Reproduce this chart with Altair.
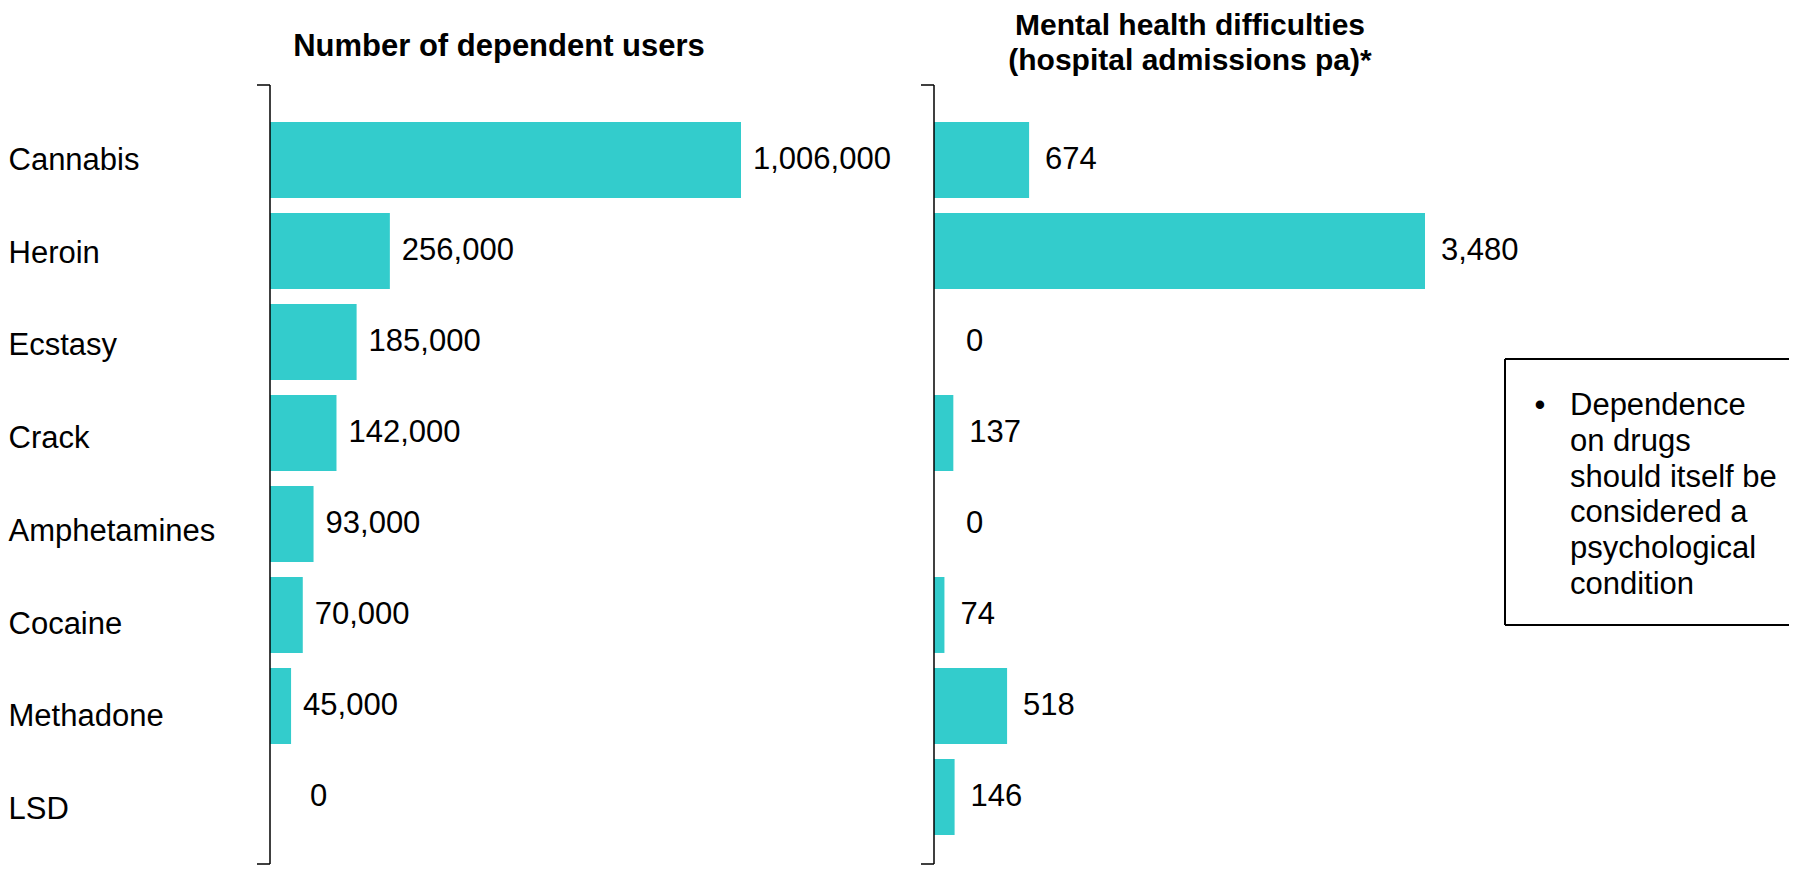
import altair as alt
import pandas as pd

# ---- data ----
drugs = ["Cannabis", "Heroin", "Ecstasy", "Crack", "Amphetamines", "Cocaine", "Methadone", "LSD"]
dependent_users = [1006000, 256000, 185000, 142000, 93000, 70000, 45000, 0]
mh_admissions = [674, 3480, 0, 137, 0, 74, 518, 146]

title_left = "Number of dependent users"
title_right = ["Mental health difficulties", "(hospital admissions pa)*"]
note_lines = ["Dependence", "on drugs", "should itself be", "considered a", "psychological", "condition"]

# ---- styling / layout ----
FONT = "Liberation Sans"
BAR = "#33CCCC"
FS = 31
H = 779
W1 = 644
W2 = 855
LEFT_MAX_PX = 471
RIGHT_MAX_PX = 491

df = pd.DataFrame({"drug": drugs, "users": dependent_users, "admissions": mh_admissions})
one = pd.DataFrame({"k": [0]})

yscale = alt.Scale(domain=drugs, paddingInner=0.165, paddingOuter=0.3626, align=0.56)

y_left = alt.Y(
    "drug:N",
    scale=yscale,
    axis=alt.Axis(
        title=None, labelAlign="left", labelPadding=262, ticks=False, tickSize=0,
        domain=False, labelFont=FONT, labelFontSize=FS, labelColor="black",
        labelLimit=500, labelBaseline="middle",
        labelOffset=alt.ExprRef("datum.index * 12 + 1"),
    ),
)
y_right = alt.Y("drug:N", scale=yscale, axis=None)

x_left = alt.X("users:Q", axis=None,
               scale=alt.Scale(domain=[0, max(dependent_users) * W1 / LEFT_MAX_PX], nice=False, zero=True))
x_right = alt.X("admissions:Q", axis=None,
                scale=alt.Scale(domain=[0, max(mh_admissions) * W2 / RIGHT_MAX_PX], nice=False, zero=True))


def axis_line():
    v = alt.Chart(one).mark_rule(color="black", strokeWidth=1.5).encode(
        x=alt.value(0), y=alt.value(0), y2=alt.value(H))
    t1 = alt.Chart(one).mark_rule(color="black", strokeWidth=1.5).encode(
        x=alt.value(-13), x2=alt.value(0), y=alt.value(0))
    t2 = alt.Chart(one).mark_rule(color="black", strokeWidth=1.5).encode(
        x=alt.value(-13), x2=alt.value(0), y=alt.value(H))
    return [v, t1, t2]


# ---- left panel ----
bars_l = alt.Chart(df).mark_bar(color=BAR).encode(x=x_left, y=y_left)
text_l = alt.Chart(df).mark_text(
    align="left", baseline="middle", font=FONT, fontSize=FS, color="black",
    dx=alt.ExprRef("datum.users == 0 ? 40 : 12"),
).encode(x=x_left, y=y_left, text=alt.Text("users:Q", format=","))
tl = alt.Chart(one).mark_text(
    text=title_left, align="center", baseline="alphabetic", font=FONT, fontSize=FS,
    fontWeight="bold", color="black"
).encode(x=alt.value(229), y=alt.value(-29))

left = alt.layer(bars_l, text_l, *axis_line(), tl).properties(width=W1, height=H)

# ---- right panel ----
bars_r = alt.Chart(df).mark_bar(color=BAR).encode(x=x_right, y=y_right)
text_r = alt.Chart(df).mark_text(
    align="left", baseline="middle", font=FONT, fontSize=FS, color="black",
    dx=alt.ExprRef("datum.admissions == 0 ? 32 : 16"),
).encode(x=x_right, y=y_right, text=alt.Text("admissions:Q", format=","))
tr = alt.Chart(one).mark_text(
    text=title_right, align="center", baseline="alphabetic", font=FONT, fontSize=30,
    fontWeight="bold", color="black", lineHeight=35
).encode(x=alt.value(256), y=alt.value(-50))

BX, BT, BB = 571, 274, 540
box_top = alt.Chart(one).mark_rule(color="black", strokeWidth=2).encode(
    x=alt.value(BX), x2=alt.value(W2), y=alt.value(BT))
box_bot = alt.Chart(one).mark_rule(color="black", strokeWidth=2).encode(
    x=alt.value(BX), x2=alt.value(W2), y=alt.value(BB))
box_left = alt.Chart(one).mark_rule(color="black", strokeWidth=2).encode(
    x=alt.value(BX), y=alt.value(BT), y2=alt.value(BB))
bullet = alt.Chart(one).mark_text(
    text="•", align="center", baseline="alphabetic", font=FONT, fontSize=FS, color="black"
).encode(x=alt.value(606), y=alt.value(330))
note = alt.Chart(one).mark_text(
    text=note_lines, align="left", baseline="alphabetic", font=FONT, fontSize=FS,
    color="black", lineHeight=35.8
).encode(x=alt.value(636), y=alt.value(330))

right = alt.layer(bars_r, text_r, *axis_line(), tr, box_top, box_bot, box_left, bullet, note).properties(
    width=W2, height=H)

chart = alt.hconcat(left, right, spacing=20, bounds="flush").properties(
    padding={"top": 3, "left": 0, "right": 0, "bottom": 0}
).configure_view(stroke=None)

chart.save("out.html", embed_options={"renderer": "svg", "actions": False})
